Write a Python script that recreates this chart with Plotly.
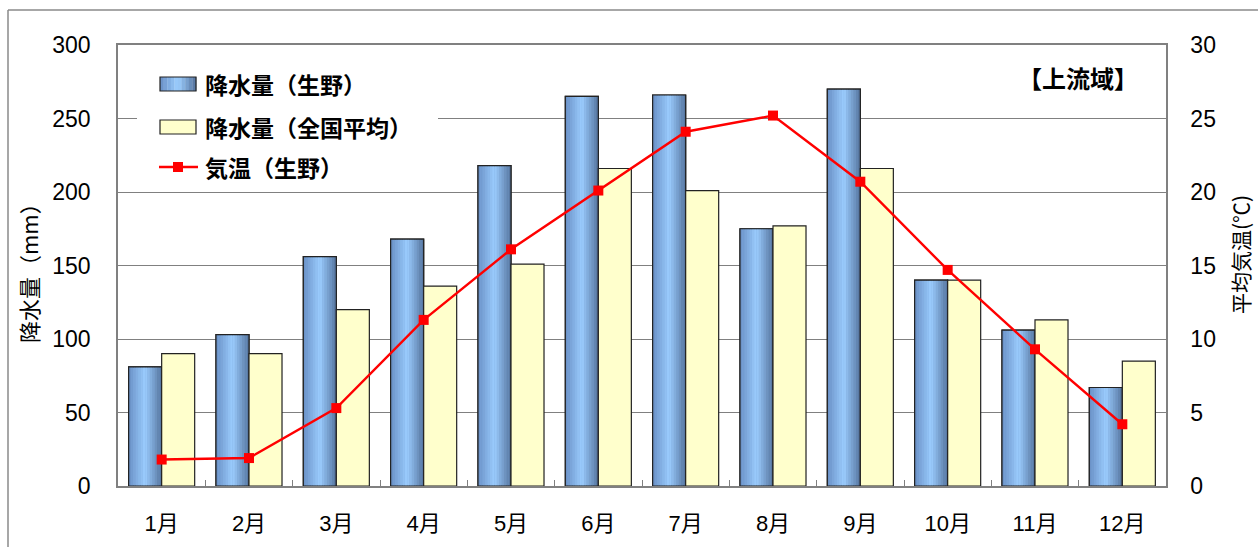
import plotly.graph_objects as go

# Monthly climate data for the upstream area (生野)
months = ["1月", "2月", "3月", "4月", "5月", "6月", "7月", "8月", "9月", "10月", "11月", "12月"]
rain_ikuno = [81, 103, 156, 168, 218, 265, 266, 175, 270, 140, 106, 67]
rain_national = [90, 90, 120, 136, 151, 216, 201, 177, 216, 140, 113, 85]
temp_ikuno = [1.8, 1.9, 5.3, 11.3, 16.1, 20.1, 24.1, 25.2, 20.7, 14.7, 9.3, 4.2]
legend_labels = ["降水量（生野）", "降水量（全国平均）", "気温（生野）"]

FONT = "Liberation Sans, Arial, Noto Sans CJK JP, sans-serif"
JP_FONT = "Noto Sans CJK JP, Liberation Sans, sans-serif"
GRID = "#808080"

# plot-area geometry in pixels (used to place the hand-drawn legend)
W_FIG, H_FIG = 1258, 547
L, R, T, B = 118, 92, 45, 61
PW, PH = W_FIG - L - R, H_FIG - T - B


def px(x):
    return (x - L) / PW


def py(y):
    return (H_FIG - B - y) / PH


W = 0.378          # bar width in category units
N_STRIPES = 14     # vertical stripes used to shade the cylinder-like bars


def lerp(c1, c2, t):
    return tuple(round(a + (b - a) * t) for a, b in zip(c1, c2))


def shade(t):
    # dark edge -> bright centre -> darker edge
    left, mid, right = (104, 142, 196), (156, 206, 255), (84, 114, 156)
    if t <= 0.5:
        c = lerp(left, mid, t / 0.5)
    else:
        c = lerp(mid, right, (t - 0.5) / 0.5)
    return "rgb(%d,%d,%d)" % c


fig = go.Figure()

# base bar for the local rainfall
fig.add_trace(go.Bar(
    x=months, y=rain_ikuno, name=legend_labels[0],
    width=W, offset=-W,
    marker=dict(color="rgb(126,170,222)", line=dict(color="#222", width=1.2)),
))
# shading stripes
sw = W / N_STRIPES
for i in range(N_STRIPES):
    t = (i + 0.5) / N_STRIPES
    fig.add_trace(go.Bar(
        x=months, y=rain_ikuno, hoverinfo="skip",
        width=sw * 1.02, offset=-W + i * sw,
        marker=dict(color=shade(t), line=dict(width=0)),
    ))
# outline on top
fig.add_trace(go.Bar(
    x=months, y=rain_ikuno, hoverinfo="skip",
    width=W, offset=-W,
    marker=dict(color="rgba(0,0,0,0)", line=dict(color="#222", width=1.2)),
))

# national average rainfall
fig.add_trace(go.Bar(
    x=months, y=rain_national, name=legend_labels[1],
    width=W, offset=0,
    marker=dict(color="#FFFFCC", line=dict(color="#222", width=1.2)),
))

# mean temperature on the secondary axis
fig.add_trace(go.Scatter(
    x=months, y=temp_ikuno, name=legend_labels[2], yaxis="y2",
    mode="lines+markers",
    line=dict(color="#FF0000", width=2.4),
    marker=dict(symbol="square", size=10, color="#FF0000"),
))

shapes = []
# outer frame lines (top and left)
frame = dict(type="line", xref="paper", yref="paper",
             line=dict(color="#8a8a8a", width=1.5))
shapes.append(dict(x0=px(8), x1=px(1258), y0=py(10), y1=py(10), **frame))
shapes.append(dict(x0=px(8), x1=px(8), y0=py(10), y1=py(547), **frame))

# legend box
box = dict(type="rect", xref="paper", yref="paper", layer="above")
shapes.append(dict(x0=px(137), x1=px(438), y0=py(57), y1=py(186),
                   fillcolor="white", line=dict(width=0), **box))
# legend icon: shaded blue box
n_icon = 10
for i in range(n_icon):
    x0 = 160 + i * 36 / n_icon
    shapes.append(dict(x0=px(x0), x1=px(x0 + 36 / n_icon + 0.3), y0=py(77), y1=py(91),
                       fillcolor=shade((i + 0.5) / n_icon), line=dict(width=0), **box))
shapes.append(dict(x0=px(160), x1=px(196), y0=py(77), y1=py(91),
                   fillcolor="rgba(0,0,0,0)", line=dict(color="#222", width=1.2), **box))
# legend icon: pale yellow box
shapes.append(dict(x0=px(160), x1=px(196), y0=py(120), y1=py(134),
                   fillcolor="#FFFFCC", line=dict(color="#222", width=1.2), **box))
# legend icon: red line with square marker
shapes.append(dict(type="line", xref="paper", yref="paper", layer="above",
                   x0=px(159), x1=px(198), y0=py(167), y1=py(167),
                   line=dict(color="#FF0000", width=2.4)))
shapes.append(dict(x0=px(173), x1=px(183), y0=py(162), y1=py(172),
                   fillcolor="#FF0000", line=dict(width=0), **box))

for label, yc in zip(legend_labels, [84, 127, 167]):
    fig.add_annotation(
        text="<b>%s</b>" % label, xref="paper", yref="paper",
        x=px(203), y=py(yc), xanchor="left", yanchor="middle",
        showarrow=False, font=dict(family=JP_FONT, size=23, color="#000"),
    )

fig.add_annotation(
    text="降水量（mm）", xref="paper", yref="paper", x=px(28), y=py(268),
    xanchor="center", yanchor="middle",
    textangle=-90, showarrow=False, font=dict(family=JP_FONT, size=22, color="#000"),
)
fig.add_annotation(
    text="平均気温(℃)", xref="paper", yref="paper", x=px(1240), y=py(255),
    xanchor="center", yanchor="middle",
    textangle=-90, showarrow=False, font=dict(family=JP_FONT, size=21, color="#000"),
)
fig.add_annotation(
    text="<b>【上流域】</b>", xref="paper", yref="paper", x=px(1078), y=py(78),
    xanchor="center", yanchor="middle",
    showarrow=False, font=dict(family=JP_FONT, size=24, color="#000"),
)

fig.update_layout(
    width=W_FIG, height=H_FIG,
    margin=dict(l=L, r=R, t=T, b=B),
    paper_bgcolor="white", plot_bgcolor="white",
    barmode="overlay",
    font=dict(family=FONT, color="#000"),
    showlegend=False,
    shapes=shapes,
    xaxis=dict(
        type="category", showgrid=False, zeroline=False,
        showline=True, linecolor=GRID, linewidth=1.5, mirror=True,
        ticks="inside", tickson="boundaries", ticklen=6, tickcolor=GRID,
        tickfont=dict(size=22, family=FONT), ticklabelstandoff=17,
        range=[-0.5, 11.5],
    ),
    yaxis=dict(
        range=[0, 300], tickvals=[0, 50, 100, 150, 200, 250, 300],
        showgrid=True, gridcolor=GRID, gridwidth=1,
        zeroline=False, showline=True, linecolor=GRID, linewidth=1.5,
        ticks="", tickfont=dict(size=23, family=FONT), ticklabelstandoff=21,
    ),
    yaxis2=dict(
        range=[0, 30], tickvals=[0, 5, 10, 15, 20, 25, 30],
        overlaying="y", side="right", showgrid=False, zeroline=False,
        showline=True, linecolor=GRID, linewidth=1.5,
        ticks="", tickfont=dict(size=23, family=FONT), ticklabelstandoff=18,
    ),
)

fig.write_html("out.html")
